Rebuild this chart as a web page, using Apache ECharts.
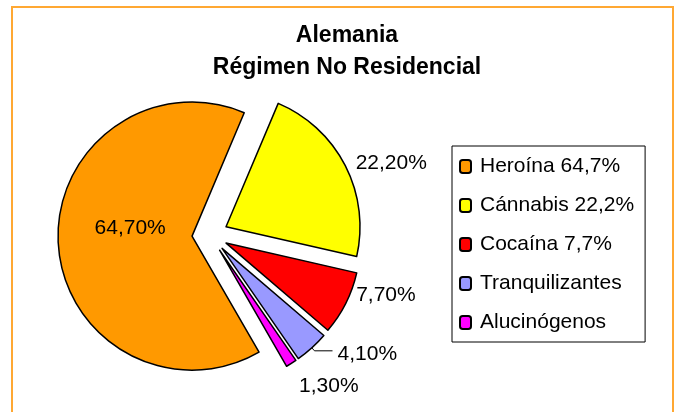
<!DOCTYPE html>
<html>
<head>
<meta charset="utf-8">
<script src="https://cdn.jsdelivr.net/npm/echarts@6/dist/echarts.min.js"></script>
<style>
    html, body { margin: 0; padding: 0; background: #fff; }
    #frame {
        position: absolute; left: 11px; top: 6px; width: 659px; height: 420px;
        border: 2px solid #FFA833;
    }
    #main { position: absolute; left: 0; top: 0; width: 677px; height: 412px; }
</style>
</head>
<body>
<div id="frame"></div>
<div id="main"></div>
<script>
/* datos */
var categories = ['Heroína 64,7%', 'Cánnabis 22,2%', 'Cocaína 7,7%', 'Tranquilizantes', 'Alucinógenos'];
var values = [64.7, 22.2, 7.7, 4.1, 1.3];
var colorList = ['#FF9900', '#FFFF00', '#FF0000', '#9999FF', '#FF00FF'];
// largo de la línea guía por porción (primer tramo, segundo tramo)
var lineLen = [10, 6, 6, 4, 22];
var lineLen2 = [0, 0, 0, 18, 0];
// ajuste fino de las etiquetas
var labelDx = [8, 0, 0, 0, -9];
var labelDy = [-12, 0, -11, 3, 4];

function pct(v) {
    return v.toFixed(2).replace('.', ',') + '%';
}

var chart = echarts.init(document.getElementById('main'));
var fontName = 'Liberation Sans, Arial, sans-serif';

var dataList = [];
for (var i = 0; i < categories.length; i++) {
    var item = {
        name: categories[i],
        value: values[i],
        selected: true,
        labelLine: { show: i == 3, length: lineLen[i], length2: lineLen2[i] }
    };
    if (i == 0) {
        item.label = { position: 'inside' };
    }
    dataList.push(item);
}

var option = {
    animation: false,
    color: colorList,
    title: {
        text: 'Alemania\nRégimen No Residencial',
        left: 342,
        top: 15,
        textAlign: 'center',
        textStyle: {
            fontFamily: fontName,
            fontSize: 23,
            fontWeight: 'bold',
            lineHeight: 32,
            color: '#000'
        }
    },
    legend: {
        orient: 'vertical',
        left: 452,
        top: 146,
        padding: [10, 11, 9, 7],
        borderColor: '#000',
        borderWidth: 1,
        itemWidth: 11,
        itemHeight: 13,
        itemGap: 18,
        selectedMode: false,
        textStyle: {
            fontFamily: fontName,
            fontSize: 21,
            lineHeight: 20,
            color: '#000',
            padding: [0, 0, 0, 4]
        },
        data: categories
    },
    series: [
        {
            type: 'pie',
            center: [210, 235],
            radius: 134,
            startAngle: -60,
            clockwise: true,
            selectedMode: 'multiple',
            selectedOffset: 18,
            avoidLabelOverlap: false,
            emphasis: { disabled: true },
            itemStyle: {
                borderColor: '#000',
                borderWidth: 1.5
            },
            label: {
                show: true,
                position: 'outside',
                fontFamily: fontName,
                fontSize: 21,
                color: '#000',
                formatter: function (p) { return pct(p.value); }
            },
            labelLine: {
                lineStyle: { color: '#000', width: 1 }
            },
            labelLayout: function (params) {
                return {
                    hideOverlap: false,
                    dx: labelDx[params.dataIndex],
                    dy: labelDy[params.dataIndex]
                };
            },
            data: dataList
        }
    ]
};
chart.setOption(option);
</script>
</body>
</html>
